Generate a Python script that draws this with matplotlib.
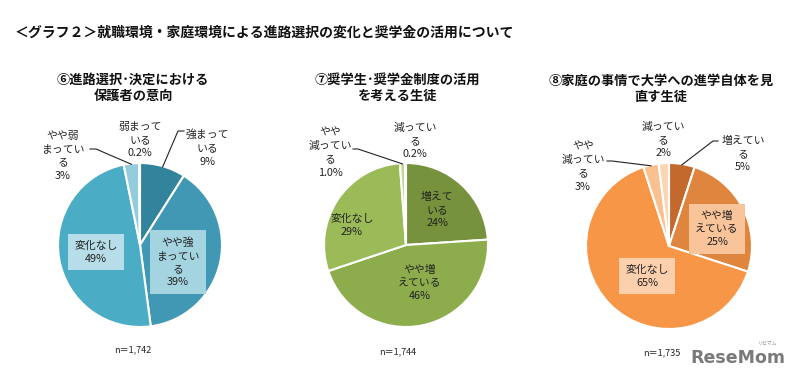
import numpy as np
import matplotlib
matplotlib.use("Agg")
import matplotlib.pyplot as plt

plt.rcParams['font.family'] = ['Noto Sans CJK JP', 'DejaVu Sans']

W, H = 801, 383

# ---------------- data ----------------
main_title = "＜グラフ２＞就職環境・家庭環境による進路選択の変化と奨学金の活用について"

title1 = "⑥進路選択･決定における\n保護者の意向"
cats1 = ["強まって\nいる", "やや強\nまってい\nる", "変化なし", "やや弱\nまってい\nる", "弱まって\nいる"]
vals1 = [9, 39, 49, 3, 0.2]
pct1 = ["9%", "39%", "49%", "3%", "0.2%"]
n1 = "n＝1,742"
colors1 = ["#31849B", "#4198B4", "#4BACC6", "#93CDDD", "#B7DEE8"]

title2 = "⑦奨学生･奨学金制度の活用\nを考える生徒"
cats2 = ["増えて\nいる", "やや増\nえている", "変化なし", "やや\n減ってい\nる", "減ってい\nる"]
vals2 = [24, 46, 29, 1.0, 0.2]
pct2 = ["24%", "46%", "29%", "1.0%", "0.2%"]
n2 = "n＝1,744"
colors2 = ["#76923C", "#8DAD4D", "#9BBB59", "#C3D69B", "#D7E4BD"]

title3 = "⑧家庭の事情で大学への進学自体を見\n直す生徒"
cats3 = ["増えてい\nる", "やや増\nえている", "変化なし", "やや\n減ってい\nる", "減ってい\nる"]
vals3 = [5, 25, 65, 3, 2]
pct3 = ["5%", "25%", "65%", "3%", "2%"]
n3 = "n＝1,735"
colors3 = ["#C4692D", "#E0853D", "#F79646", "#FAC090", "#FCD5B4"]

# ---------------- layout ----------------
fig = plt.figure(figsize=(W / 100, H / 100), dpi=100)
fig.patch.set_facecolor("white")


def fx(x):
    return x / W


def fy(y):
    return 1 - y / H


fig.text(fx(15), fy(33), main_title, fontsize=10, fontweight="bold",
         ha="left", va="center", color="#111111")

TXT = "#222222"
LS = 1.4

charts = [
    dict(vals=vals1, cats=cats1, pct=pct1, colors=colors1, title=title1, n=n1,
         c=(140, 245), r=82, tpos=(133, 88), npos=(133, 350),
         lab=[(207, 148, None), (178, 262, "#A5D4E1"), (96, 252, "#B7DEE8"),
              (63, 156, None), (140, 140, None)],
         leaders={0: [(184, 131), (178, 131)], 3: [(90, 149), (96, 149)]}),
    dict(vals=vals2, cats=cats2, pct=pct2, colors=colors2, title=title2, n=n2,
         c=(406, 245), r=82, tpos=(397, 88), npos=(398, 352),
         lab=[(437, 210, None), (420, 283, None), (352, 225, None),
              (330, 153, None), (415, 141, None)],
         leaders={3: [(353, 149), (358, 149)]}),
    dict(vals=vals3, cats=cats3, pct=pct3, colors=colors3, title=title3, n=n3,
         c=(669, 246), r=83, tpos=(661, 89), npos=(662, 353),
         lab=[(743, 154, None), (717, 229, "#FAC49A"), (647, 276, "#FCD0AC"),
              (583, 167, None), (663, 140, None)],
         leaders={0: [(718, 141), (713, 141)], 3: [(607, 161), (612, 161)]}),
]

for ch in charts:
    cx, cy = ch["c"]
    r = ch["r"]
    ax = fig.add_axes([fx(cx - r), fy(cy + r), 2 * r / W, 2 * r / H])
    wedges, _ = ax.pie(ch["vals"], colors=ch["colors"], startangle=90,
                       counterclock=False, radius=1.0,
                       wedgeprops=dict(edgecolor="white", linewidth=1.5))
    ax.set_xlim(-1, 1)
    ax.set_ylim(-1, 1)
    ax.set_aspect("auto")
    ax.axis("off")

    def p2d(px, py, cx=cx, cy=cy, r=r):
        return (px - cx) / r, (cy - py) / r

    fig.text(fx(ch["tpos"][0]), fy(ch["tpos"][1]), ch["title"], fontsize=9.5,
             fontweight="bold", ha="center", va="center", linespacing=1.15,
             color="#111111")

    for i, (lx, ly, box) in enumerate(ch["lab"]):
        s = ch["cats"][i] + "\n" + ch["pct"][i]
        kw = {}
        if box is not None:
            kw["bbox"] = dict(boxstyle="square,pad=0.6", facecolor=box,
                              edgecolor="none")
        fig.text(fx(lx), fy(ly), s, fontsize=7.8, ha="center", va="center",
                 linespacing=LS, color=TXT, **kw)

    for i, pts in ch["leaders"].items():
        w = wedges[i]
        mid = np.deg2rad((w.theta1 + w.theta2) / 2)
        ex, ey = 0.99 * np.cos(mid), 0.99 * np.sin(mid)
        xs = [p2d(*p)[0] for p in pts] + [ex]
        ys = [p2d(*p)[1] for p in pts] + [ey]
        ax.plot(xs, ys, color="#222222", lw=0.8, clip_on=False)

    fig.text(fx(ch["npos"][0]), fy(ch["npos"][1]), ch["n"], fontsize=6.5,
             ha="center", va="center", color=TXT)

# watermark
fig.text(fx(738), fy(358), "ReseMom", fontsize=12.5, fontweight="bold",
         ha="center", va="center", color="#7a7a7a", family="DejaVu Sans")
fig.text(fx(768), fy(343), "リセマム", fontsize=3.5, ha="center", va="center",
         color="#8a8a8a")

fig.savefig("out.png", dpi=100, facecolor="white")
